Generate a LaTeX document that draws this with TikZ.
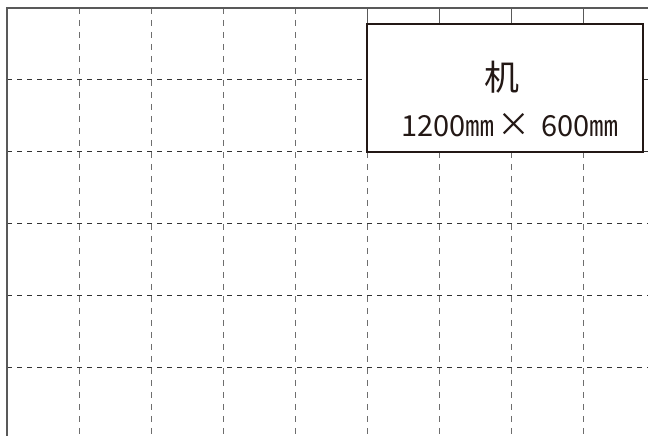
\documentclass[tikz,border=0pt]{standalone}
\usepackage{fontspec}
\newfontfamily\jp{Noto Sans CJK JP}
\definecolor{ink}{HTML}{231815}
\definecolor{vgray}{HTML}{6E6E6E}
\definecolor{hgray}{HTML}{333333}
\begin{document}
\begin{tikzpicture}[x=1pt,y=1pt,
  vdash/.style={draw=vgray,line width=1pt,dash pattern=on 6pt off 6pt},
  hdash/.style={draw=hgray,line width=1pt,dash pattern=on 5pt off 5pt},
  border/.style={draw=black!65,line width=1.1pt},
  deskbox/.style={draw=ink,line width=1.4pt,fill=white,minimum width=276pt,minimum height=128pt,inner sep=0pt},
  lbl/.style={text=ink,inner sep=0pt}]
\useasboundingbox (0,0) rectangle (648,436);
% horizontal dashed lines (y in px from top: 80,152,224,296,368)
\foreach \yy in {224,296,368}{
  \draw[hdash] (7,436-\yy) -- (648,436-\yy);
}
\foreach \yy in {80,152}{
  \draw[hdash] (7,436-\yy) -- (367,436-\yy);
  \draw[hdash] (643,436-\yy) -- (648,436-\yy);
}
% vertical dashed lines
\foreach \xx in {79,151,223,295}{
  \draw[vdash] (\xx,428) -- (\xx,0);
}
\foreach \xx in {367,439,511,583}{
  \draw[border,line width=0.9pt] (\xx,428) -- (\xx,412);
  \draw[vdash] (\xx,284) -- (\xx,0);
}
% outer solid borders
\draw[border] (7,0) -- (7,428) -- (648,428);
% desk
\node[deskbox] (desk) at (505,348) {};
\node[lbl,font=\jp\fontsize{35}{35}\selectfont] (name) at (502,358.5) {机};
\node[lbl,font=\jp\fontsize{29}{29}\selectfont] (size) at (510,311) {1200㎜\hspace{3pt}{\fontsize{33}{33}\selectfont ×}\hspace{11pt}600㎜};
\end{tikzpicture}
\end{document}
